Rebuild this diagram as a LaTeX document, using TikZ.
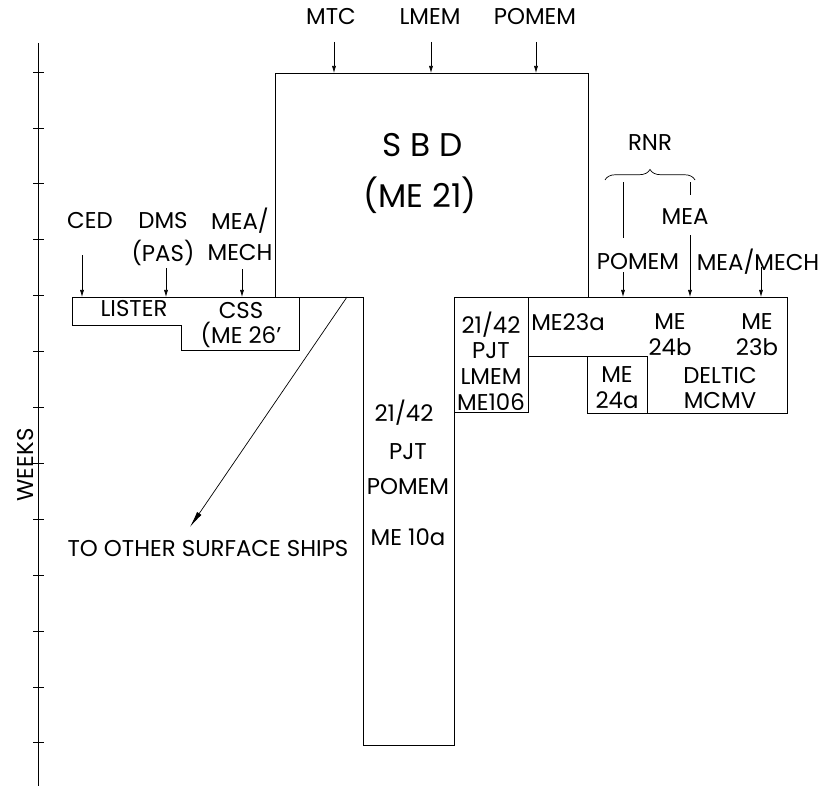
\documentclass[tikz,border=0pt]{standalone}
\usepackage{fontspec}
\setmainfont{Poppins}
\usetikzlibrary{arrows.meta,decorations.pathreplacing}

\tikzset{
  ln/.style={line width=0.6pt},
  arr/.style={ln,-{Latex[length=6pt,width=3.5pt]}},
  lbl/.style={font=\fontsize{19.5}{22}\selectfont,inner sep=1pt,align=center},
  big/.style={font=\fontsize{28}{32}\selectfont,inner sep=1pt},
}

\begin{document}
\begin{tikzpicture}[x=0.03cm,y=-0.03cm]
  \useasboundingbox (0,0) rectangle (833,786);

  % week scale
  \draw[ln] (38,43) -- (38,786);
  \foreach \k in {0,...,12}
    \draw[ln] (33,72+55.9*\k) -- (44,72+55.9*\k);
  \node[lbl,rotate=90] (weeks) at (26,465) {WEEKS};

  % SBD and its column
  \draw[ln] (275,297) -- (275,73) -- (588,73) -- (588,297);
  \draw[ln] (299,297) -- (363,297);
  \draw[ln] (363,297) -- (363,745) -- (454,745) -- (454,412);
  \node[big] (sbd) at (423,145) {S B D};
  \node[big] (me21) at (420,195) {(ME 21)};
  \node[lbl] (col1) at (404,413) {21/42};
  \node[lbl] (col2) at (408,452) {PJT};
  \node[lbl] (col3) at (408,487) {POMEM};
  \node[lbl] (col4) at (408,537) {ME 10a};

  % left group
  \draw[ln] (72,297) -- (299,297) -- (299,350) -- (181,350)
    -- (181,325) -- (72,325) -- cycle;
  \node[lbl] (lister) at (134,309) {LISTER};
  \node[lbl] (css) at (241,325) {CSS\\(ME 26'};

  % right group
  \draw[ln] (454,297) rectangle (528,412);
  \draw[ln] (528,297) -- (787,297) -- (787,413) -- (587,413)
    -- (587,356) -- (528,356);
  \draw[ln] (587,356) -- (647,356) -- (647,413);
  \node[lbl] (pjt) at (491,361) {21/42\\PJT\\LMEM\\ME106};
  \node[lbl] (me23a) at (568,322) {ME23a};
  \node[lbl] (me24b) at (670,335) {ME\\24b};
  \node[lbl] (me23b) at (757,335) {ME\\23b};
  \node[lbl] (me24a) at (617,388) {ME\\24a};
  \node[lbl] (deltic) at (720,388) {DELTIC\\MCMV};

  % inputs
  \node[lbl] (mtc) at (331,17) {MTC};
  \node[lbl] (lmem) at (430,17) {LMEM};
  \node[lbl] (pomem) at (535,17) {POMEM};
  \node[lbl] (ced) at (90,221) {CED};
  \node[lbl] (dms) at (163,221) {DMS};
  \node[lbl] (pas) at (163,253) {(PAS)};
  \node[lbl] (mea) at (240,221) {MEA/};
  \node[lbl] (mech) at (240,253) {MECH};
  \node[lbl] (rnr) at (650,143) {RNR};
  \node[lbl] (meaR) at (685,217) {MEA};
  \node[lbl] (pomemR) at (638,262) {POMEM};
  \node[lbl] (mechR) at (758,262) {MEA/MECH};

  \coordinate (inMTC) at (334,73);
  \coordinate (inLMEM) at (431,73);
  \coordinate (inPOMEM) at (536,73);
  \coordinate (inCED) at (82,297);
  \coordinate (inDMS) at (166,297);
  \coordinate (inMECH) at (242,297);
  \coordinate (inPOMEMR) at (623,297);
  \coordinate (inMEA) at (690,297);
  \coordinate (inMECHR) at (761,297);
  \foreach \c/\l in {inMTC/31,inLMEM/31,inPOMEM/31,inCED/42,inDMS/29,
      inMECH/28,inPOMEMR/25,inMEA/62,inMECHR/30}
    \draw[arr] (\c) ++(0,-\l) -- (\c);

  % RNR brace
  \draw[ln,decorate,decoration={brace,amplitude=9pt}] (605,180) -- (695,180);
  \draw[ln] (623,182) -- (623,238);
  \draw[ln] (690,182) -- (690,195);

  % out to other ships
  \coordinate (sbdOut) at (347,297);
  \coordinate (tip) at (190,527);
  \node[lbl] (other) at (208,549) {TO OTHER SURFACE SHIPS};
  \draw[ln,-{Latex[length=14pt,width=4.5pt]}] (sbdOut) -- (tip);
\end{tikzpicture}
\end{document}
